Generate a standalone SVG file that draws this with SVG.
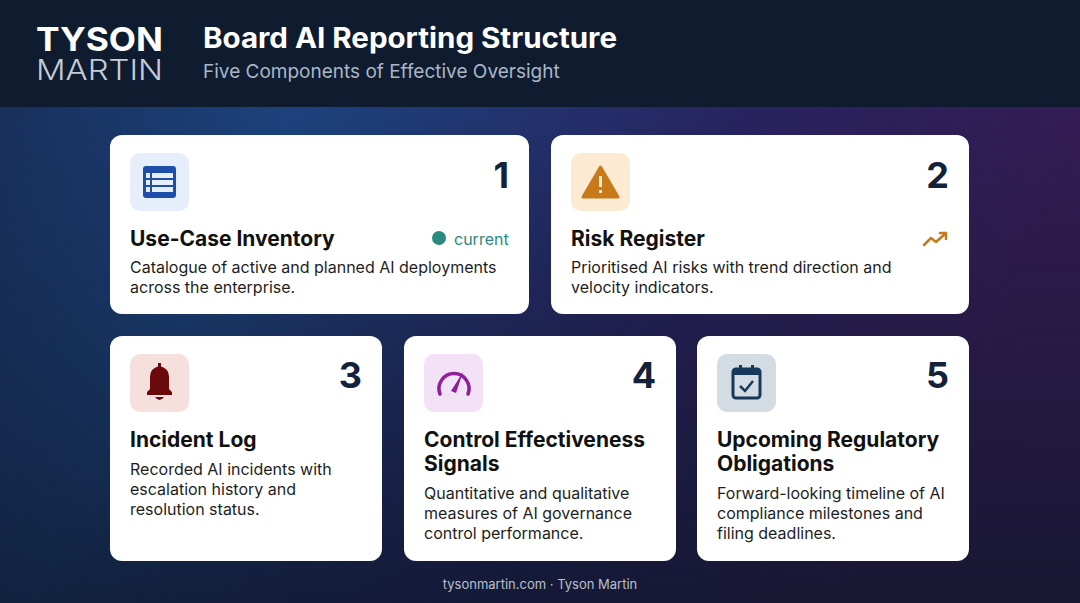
<svg xmlns="http://www.w3.org/2000/svg" width="1080" height="603" viewBox="0 0 1080 603">
<defs>
<linearGradient id="bg" x1="0" y1="0" x2="1" y2="0.3">
<stop offset="0" stop-color="#1a2f5e"/><stop offset="0.3" stop-color="#1f4a8a"/><stop offset="0.7" stop-color="#2d2468"/><stop offset="1" stop-color="#3b1d5a"/>
</linearGradient>
<linearGradient id="shade" x1="0" y1="0" x2="0" y2="1">
<stop offset="0" stop-color="#0c1526" stop-opacity="0"/><stop offset="1" stop-color="#0c1526" stop-opacity="0.75"/>
</linearGradient>
<style>
text{font-family:Inter,"Open Sans","Liberation Sans",sans-serif}
.card{fill:#fff}
.num{font-size:36px;font-weight:700;fill:#13223a;text-anchor:end}
.tt{font-size:21px;font-weight:700;fill:#111}
.ds{font-size:16px;fill:#1e1e1e}
</style>
</defs>
<rect width="1080" height="603" fill="url(#bg)"/>
<rect width="1080" height="603" fill="url(#shade)"/>
<rect width="1080" height="107" fill="#0f1c30"/>
<text x="36" y="51" font-size="33" font-weight="700" fill="#fff" textLength="127" lengthAdjust="spacingAndGlyphs">TYSON</text>
<text x="36" y="80" font-size="29" font-weight="300" fill="#c5ccd6" textLength="127" lengthAdjust="spacingAndGlyphs">MARTIN</text>
<text x="203" y="48" font-size="28" font-weight="700" fill="#fff" textLength="414" lengthAdjust="spacingAndGlyphs">Board AI Reporting Structure</text>
<text x="203" y="78" font-size="19" fill="#aab6c6">Five Components of Effective Oversight</text>

<g id="card1">
<rect class="card" x="110" y="135" width="419" height="179" rx="12"/>
<rect x="130" y="153" width="59" height="58" rx="10" fill="#e6eefb"/>
<rect x="143" y="166" width="33" height="32" rx="3" fill="#1e4fa8"/>
<g fill="#e6eefb"><rect x="146" y="173" width="4" height="5"/><rect x="146" y="180" width="4" height="5"/><rect x="146" y="187" width="4" height="5"/><rect x="152" y="173" width="21" height="5"/><rect x="152" y="180" width="21" height="5"/><rect x="152" y="187" width="21" height="5"/></g>
<text class="num" x="509" y="188">1</text>
<text class="tt" x="130" y="246">Use-Case Inventory</text>
<circle cx="439" cy="238" r="7" fill="#2a8a7e"/>
<text x="454" y="245" font-size="16" fill="#2a8a7e">current</text>
<text class="ds" x="130" y="273">Catalogue of active and planned AI deployments</text>
<text class="ds" x="130" y="293">across the enterprise.</text>
</g>
<g id="card2">
<rect class="card" x="551" y="135" width="418" height="179" rx="12"/>
<rect x="571" y="153" width="59" height="58" rx="10" fill="#fcebd2"/>
<path d="M600.5 167 L618 197 L583 197 Z" fill="#c87a1b" stroke="#c87a1b" stroke-width="3" stroke-linejoin="round"/>
<rect x="599" y="176" width="3" height="11" fill="#fcebd2"/><rect x="599" y="190" width="3" height="3" fill="#fcebd2"/>
<text class="num" x="949" y="188">2</text>
<text class="tt" x="571" y="246">Risk Register</text>
<path d="M924 245 L931 238 L936 242 L946 233 M940 233 L946 233 L946 239" fill="none" stroke="#c87a1b" stroke-width="2.5" stroke-linecap="round" stroke-linejoin="round"/>
<text class="ds" x="571" y="273">Prioritised AI risks with trend direction and</text>
<text class="ds" x="571" y="293">velocity indicators.</text>
</g>
<g id="card3">
<rect class="card" x="110" y="336" width="272" height="225" rx="12"/>
<rect x="130" y="354" width="59" height="58" rx="10" fill="#f6e0de"/>
<path d="M147 395 L147 392 L150 389 L150 377 Q150 368 159.5 366 Q169 368 169 377 L169 389 L172 392 L172 395 Z" fill="#6b0a0a"/>
<rect x="158" y="363" width="3" height="4" fill="#6b0a0a"/>
<path d="M155 397 L164 397 Q159.5 403 155 397 Z" fill="#6b0a0a"/>
<text class="num" x="362" y="388">3</text>
<text class="tt" x="130" y="447">Incident Log</text>
<text class="ds" x="130" y="475">Recorded AI incidents with</text>
<text class="ds" x="130" y="495">escalation history and</text>
<text class="ds" x="130" y="515">resolution status.</text>
</g>
<g id="card4">
<rect class="card" x="404" y="336" width="272" height="225" rx="12"/>
<rect x="424" y="354" width="59" height="58" rx="10" fill="#f3e1f5"/>
<path d="M440 394 A15 15 0 1 1 468 394" fill="none" stroke="#8e1e9a" stroke-width="3.5" stroke-linecap="round"/>
<path d="M451 391 L463 372 L456 393 Z" fill="#8e1e9a"/>
<text class="num" x="656" y="388">4</text>
<text class="tt" x="424" y="447">Control Effectiveness</text>
<text class="tt" x="424" y="471">Signals</text>
<text class="ds" x="424" y="499">Quantitative and qualitative</text>
<text class="ds" x="424" y="519">measures of AI governance</text>
<text class="ds" x="424" y="539">control performance.</text>
</g>
<g id="card5">
<rect class="card" x="697" y="336" width="272" height="225" rx="12"/>
<rect x="717" y="354" width="59" height="58" rx="10" fill="#d3dbe3"/>
<rect x="733" y="369" width="27" height="29" rx="3" fill="none" stroke="#17385a" stroke-width="3"/>
<rect x="733" y="369" width="27" height="6" fill="#17385a"/>
<rect x="739" y="365" width="3" height="6" fill="#17385a"/><rect x="751" y="365" width="3" height="6" fill="#17385a"/>
<path d="M740 386 L745 391 L753 381" fill="none" stroke="#17385a" stroke-width="2.5"/>
<text class="num" x="949" y="388">5</text>
<text class="tt" x="717" y="447">Upcoming Regulatory</text>
<text class="tt" x="717" y="471">Obligations</text>
<text class="ds" x="717" y="499">Forward-looking timeline of AI</text>
<text class="ds" x="717" y="519">compliance milestones and</text>
<text class="ds" x="717" y="539">filing deadlines.</text>
</g>
<text x="540" y="589" font-size="13" fill="#b8c0cc" text-anchor="middle">tysonmartin.com · Tyson Martin</text>
</svg>
